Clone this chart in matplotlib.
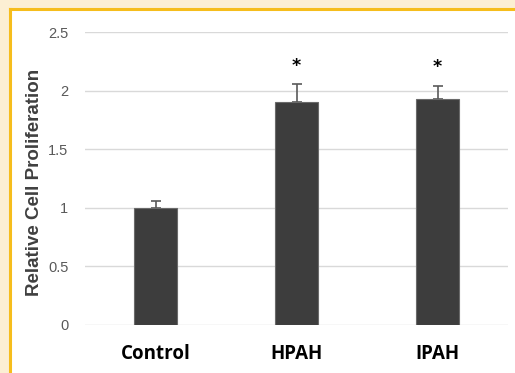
import matplotlib
matplotlib.use("Agg")
import matplotlib.pyplot as plt
from matplotlib.patches import Rectangle
from matplotlib.lines import Line2D

categories = ["Control", "HPAH", "IPAH"]
values = [1.0, 1.905, 1.928]
errors = [0.06, 0.15, 0.115]
stars = ["", "*", "*"]

W, H = 515, 373
fig = plt.figure(figsize=(W/100, H/100), dpi=100, facecolor="#FCEFD3")

# white panel with gold border (left and top)
fig.patches.append(Rectangle((10/W, 0), 1 - 10/W, 1 - 9/H, transform=fig.transFigure,
                             facecolor="white", edgecolor="none", zorder=-3))
fig.lines.append(Line2D([10/W, 10/W], [0, 1 - 9/H], transform=fig.transFigure,
                        color="#F6BD1C", lw=2.2, zorder=-2))
fig.lines.append(Line2D([10/W, 1], [1 - 9/H, 1 - 9/H], transform=fig.transFigure,
                        color="#F6BD1C", lw=2.2, zorder=-2))

ax = fig.add_axes([85/W, 1 - 325/H, (508 - 85)/W, (325 - 32)/H])
ax.set_facecolor("none")
x = list(range(len(categories)))
ax.bar(x, values, width=0.31, color="#3D3D3D", edgecolor="#6a6a6a", linewidth=0.8, zorder=3)
ax.errorbar(x, values, yerr=[[0]*len(errors), errors], fmt="none", ecolor="#5A5A5A",
            elinewidth=1.2, capsize=3.5, capthick=1.2, zorder=2)
for xi, v, e, s in zip(x, values, errors, stars):
    if s:
        ax.text(xi, v + e + 0.08, s, ha="center", va="bottom", fontsize=12.5,
                fontweight="bold", color="black")

ax.set_xlim(-0.5, 2.5)
ax.set_ylim(0, 2.5)
ax.set_yticks([0, 0.5, 1, 1.5, 2, 2.5])
ax.set_yticklabels(["0", "0.5", "1", "1.5", "2", "2.5"], fontsize=10.5,
                   color="#595959", family="Liberation Sans")
ax.set_xticks(x)
ax.set_xticklabels(categories, fontsize=13.5, fontweight="bold", color="black", family="Open Sans")
ax.tick_params(axis="both", length=0)
ax.tick_params(axis="y", pad=12)
ax.tick_params(axis="x", pad=14)
ax.yaxis.grid(True, color="#D9D9D9", linewidth=1.0, zorder=0)
ax.set_axisbelow(True)
for sp in ax.spines.values():
    sp.set_visible(False)

fig.text(35/W, 1 - 182/H, "Relative Cell Proliferation", rotation=90, ha="center", va="center",
         fontsize=13.5, fontweight="bold", color="#404040", family="Liberation Sans")

fig.savefig("out.png", dpi=100, facecolor=fig.get_facecolor())
